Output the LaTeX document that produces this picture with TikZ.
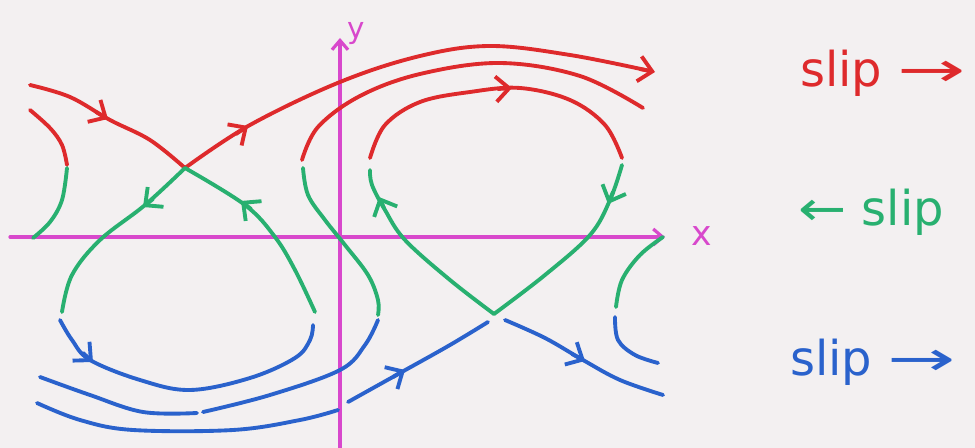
\documentclass[tikz,border=0pt]{standalone}
\usepackage{fontspec}
\setmainfont{DejaVu Sans}
\usetikzlibrary{arrows.meta}
\definecolor{bg}{RGB}{243,240,241}
\definecolor{hred}{RGB}{222,42,44}
\definecolor{hgreen}{RGB}{40,176,112}
\definecolor{hblue}{RGB}{42,98,204}
\definecolor{hmag}{RGB}{216,72,204}
\begin{document}
\begin{tikzpicture}[x=0.75pt,y=-0.75pt,line cap=round,line join=round,
  curve/.style={line width=2.9pt},
  redc/.style={curve,draw=hred},
  greenc/.style={curve,draw=hgreen},
  bluec/.style={curve,draw=hblue},
  tipped/.style={-{Straight Barb[length=10pt,width=19pt]}},
  axisline/.style={line width=2.4pt,draw=hmag,-{Straight Barb[length=7pt,width=12pt]}},
  lbl/.style={font=\fontsize{36}{40}\selectfont,inner sep=0pt}]
\fill[bg] (0,0) rectangle (975,448);
\useasboundingbox (0,0) rectangle (975,448);

% axes
\coordinate (xs) at (10,237);
\coordinate (xe) at (665,237);
\coordinate (ys) at (340,448);
\coordinate (ye) at (340,38);
\draw[axisline] (xs) -- (xe);
\draw[axisline] (ys) -- (ye);
\node[text=hmag,font=\fontsize{26}{28}\selectfont,inner sep=0pt] (xl) at (702,236) {x};
\node[text=hmag,font=\fontsize{22}{24}\selectfont,inner sep=0pt] (yl) at (356,34) {y};

% saddles
\coordinate (sL) at (185,168);
\coordinate (sR) at (494,314);

% red
\draw[redc] plot[smooth,tension=0.6] coordinates {(30,85) (70,97) (110,120) (150,140) (185,168)};
\draw[redc] plot[smooth,tension=0.6] coordinates {(185,168) (250,125) (340,82) (420,56) (490,46) (570,55) (650,71)};
\draw[redc] plot[smooth,tension=0.6] coordinates {(302,160) (318,127) (360,96) (420,74) (500,63) (580,76) (643,108)};
\draw[redc] plot[smooth,tension=0.6] coordinates {(370,158) (385,125) (420,102) (470,92) (520,88) (570,100) (605,125) (622,158)};
\draw[redc] plot[smooth,tension=0.6] coordinates {(30,110) (50,128) (62,145) (67,165)};
% red arrowheads
\coordinate (ra1) at (96,112);  \coordinate (rb1) at (108,119);
\coordinate (ra2) at (236,134); \coordinate (rb2) at (248,126);
\coordinate (ra3) at (640,69);  \coordinate (rb3) at (655,72);
\coordinate (ra4) at (498,89);  \coordinate (rb4) at (512,88);
\draw[redc,tipped] (ra1) -- (rb1);
\draw[redc,tipped] (ra2) -- (rb2);
\draw[redc,tipped] (ra3) -- (rb3);
\draw[redc,tipped] (ra4) -- (rb4);

% green
\draw[greenc] plot[smooth,tension=0.6] coordinates {(185,168) (145,205) (100,240) (72,275) (62,312)};
\draw[greenc] plot[smooth,tension=0.6] coordinates {(315,312) (295,270) (275,237) (245,205) (185,168)};
\draw[greenc] plot[smooth,tension=0.6] coordinates {(67,168) (62,200) (50,222) (33,238)};
\draw[greenc] plot[smooth,tension=0.6] coordinates {(303,168) (308,195) (325,220) (345,245) (368,275) (378,300) (378,315)};
\draw[greenc] plot[smooth,tension=0.6] coordinates {(494,314) (450,280) (405,240) (385,210) (372,185) (370,170)};
\draw[greenc] plot[smooth,tension=0.6] coordinates {(622,165) (610,200) (590,235) (545,275) (494,314)};
\draw[greenc] plot[smooth,tension=0.6] coordinates {(663,237) (640,255) (622,280) (616,307)};
% green arrowheads
\coordinate (ga1) at (153,199); \coordinate (gb1) at (143,207);
\coordinate (ga2) at (251,209); \coordinate (gb2) at (241,201);
\coordinate (ga3) at (384,208); \coordinate (gb3) at (379,197);
\coordinate (ga4) at (613,192); \coordinate (gb4) at (608,204);
\draw[greenc,tipped] (ga1) -- (gb1);
\draw[greenc,tipped] (ga2) -- (gb2);
\draw[greenc,tipped] (ga3) -- (gb3);
\draw[greenc,tipped] (ga4) -- (gb4);

% blue
\draw[bluec] plot[smooth,tension=0.6] coordinates {(60,320) (72,340) (90,360) (140,380) (190,390) (250,378) (295,358) (310,340) (313,325)};
\draw[bluec] plot[smooth,tension=0.6] coordinates {(40,377) (90,395) (143,412) (197,413)};
\draw[bluec] plot[smooth,tension=0.6] coordinates {(203,412) (270,395) (340,370) (365,345) (378,320)};
\draw[bluec] plot[smooth,tension=0.6] coordinates {(37,403) (80,420) (133,430) (233,430) (300,420) (338,410)};
\draw[bluec] plot[smooth,tension=0.6] coordinates {(348,402) (400,373) (450,345) (488,322)};
\draw[bluec] plot[smooth,tension=0.6] coordinates {(505,320) (545,338) (583,360) (620,380) (663,395)};
\draw[bluec] plot[smooth,tension=0.6] coordinates {(615,317) (618,340) (635,355) (658,363)};
% blue arrowheads
\coordinate (ba1) at (83,353);  \coordinate (bb1) at (93,362);
\coordinate (ba2) at (393,377); \coordinate (bb2) at (405,370);
\coordinate (ba3) at (572,354); \coordinate (bb3) at (585,361);
\draw[bluec,tipped] (ba1) -- (bb1);
\draw[bluec,tipped] (ba2) -- (bb2);
\draw[bluec,tipped] (ba3) -- (bb3);

% labels
\node[lbl,text=hred,anchor=west] (lr) at (800,73) {slip \scalebox{1.7}[1]{→}};
\node[lbl,text=hgreen,anchor=west] (lg) at (798,212) {\scalebox{1.2}[1]{←} slip};
\node[lbl,text=hblue,anchor=west] (lb) at (790,362) {slip \scalebox{1.7}[1]{→}};
\end{tikzpicture}
\end{document}
